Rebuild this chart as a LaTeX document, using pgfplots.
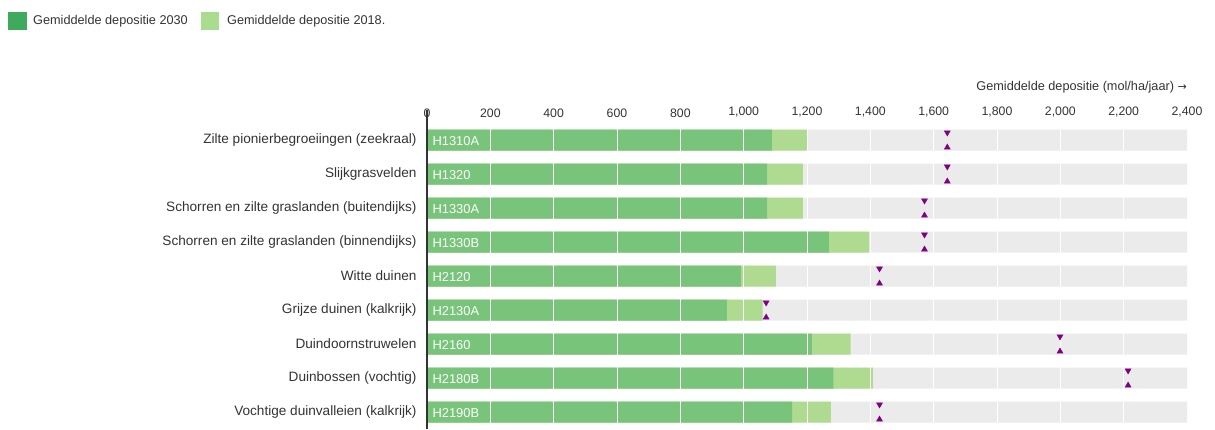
\documentclass[border=0pt]{standalone}
\usepackage{fontspec}
\setmainfont{Liberation Sans}
\newfontfamily\dejavu{DejaVu Sans}
\usepackage{pgfplots}
\usepackage{pgfplotstable}
\pgfplotsset{compat=1.18}
\definecolor{g30}{HTML}{78C47A}
\definecolor{g18}{HTML}{AEDB90}
\definecolor{bgc}{HTML}{EBEBEB}
\definecolor{lg30}{HTML}{3DAA5D}
\definecolor{lg18}{HTML}{A9DC8F}
\definecolor{kdw}{HTML}{800080}
\definecolor{txt}{HTML}{333333}
\pgfplotstableread{
y v30 v18 kdw lab
0 1089 1200 1643 H1310A
1 1074 1187 1643 H1320
2 1074 1187 1571 H1330A
3 1269 1396 1571 H1330B
4 991 1102 1429 H2120
5 947 1060 1071 H2130A
6 1215 1338 1999 H2160
7 1283 1408 2214 H2180B
8 1153 1275 1429 H2190B
}\data
\newcommand{\f}{\fontsize{12.3}{14}\selectfont}
\newcommand{\fy}{\fontsize{13.6}{16}\selectfont}
\newcommand{\fl}{\fontsize{12.7}{15}\selectfont}
\begin{document}
\begin{tikzpicture}
\useasboundingbox (0,0) rectangle (1215pt,429pt);
\begin{axis}[
  at={(427pt,0pt)}, anchor=south west,
  scale only axis, width=760pt, height=306pt,
  xmin=0, xmax=2400, ymin=-0.5, ymax=8.5, y dir=reverse,
  axis line style={draw=none},
  major tick length=0pt,
  xtick={0,200,...,2400},
  xticklabel pos=top,
  scaled x ticks=false,
  /pgf/number format/assume math mode=true,
  /pgf/number format/1000 sep={,},
  xticklabel style={font=\f, text=txt, yshift=2pt},
  ytick={0,...,8},
  yticklabels={Zilte pionierbegroeiingen (zeekraal),Slijkgrasvelden,Schorren en zilte graslanden (buitendijks),Schorren en zilte graslanden (binnendijks),Witte duinen,Grijze duinen (kalkrijk),Duindoornstruwelen,Duinbossen (vochtig),Vochtige duinvalleien (kalkrijk)},
  yticklabel style={font=\fy, text=txt, xshift=-7pt},
  clip=false,
]
\addplot[xbar, bar width=21pt, bar shift=0pt, fill=bgc, draw=none] table[x expr=2400, y=y]{\data};
\addplot[xbar, bar width=21pt, bar shift=0pt, fill=g18, draw=none] table[x=v18, y=y]{\data};
\addplot[xbar, bar width=21pt, bar shift=0pt, fill=g30, draw=none] table[x=v30, y=y]{\data};
\pgfplotsinvokeforeach{200,400,...,2200}{\draw[white, line width=1pt] (axis cs:#1,-0.5) -- (axis cs:#1,8.5);}
\addplot[draw=none, nodes near coords, point meta=explicit symbolic,
  nodes near coords style={anchor=west, text=white, font=\fontsize{12.9}{15}\selectfont, xshift=2pt, yshift=-1pt}]
  table[x expr=0, y=y, meta=lab]{\data};
\addplot[only marks, mark=triangle*, mark size=3.5pt, color=kdw, mark options={rotate=180}]
  table[x=kdw, y expr=\thisrow{y}-0.22]{\data};
\addplot[only marks, mark=triangle*, mark size=3.5pt, color=kdw]
  table[x=kdw, y expr=\thisrow{y}+0.22]{\data};
\end{axis}
\draw[txt, line width=1.2pt] (427pt,0pt) -- (427pt,319pt);
\node[anchor=east, inner sep=0pt, font=\fl, text=txt] at (1187pt,342pt) {Gemiddelde depositie (mol/ha/jaar) {\dejavu\fontsize{11}{14}\selectfont →}};
\fill[lg30] (8pt,399pt) rectangle (27pt,417pt);
\node[anchor=west, inner sep=0pt, font=\fl, text=txt] at (33pt,408pt) {Gemiddelde depositie 2030};
\fill[lg18] (201pt,399pt) rectangle (219pt,417pt);
\node[anchor=west, inner sep=0pt, font=\fl, text=txt] at (227pt,408pt) {Gemiddelde depositie 2018.};
\end{tikzpicture}
\end{document}
